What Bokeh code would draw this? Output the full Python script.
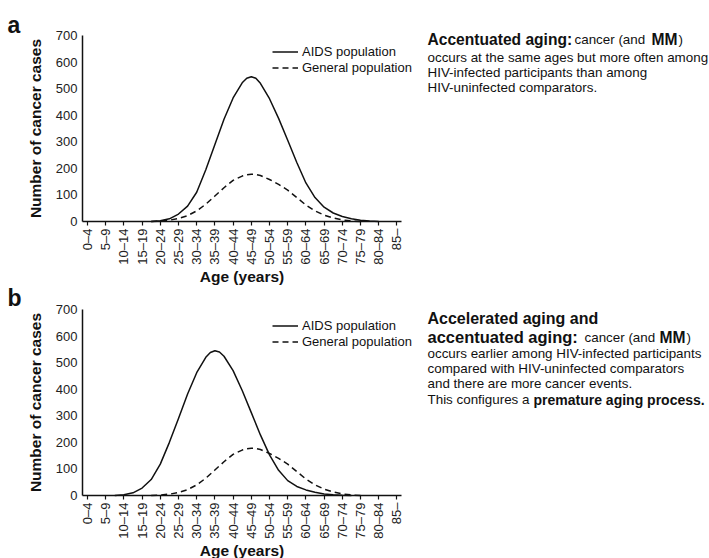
import math
from bokeh.plotting import figure
from bokeh.models import (Range1d, FixedTicker, Label, Legend, LegendItem,
                          LinearAxis, Grid)
from bokeh.embed import file_html
from bokeh.resources import INLINE

# ---------------- data ----------------
age_groups = ["0–4", "5–9", "10–14", "15–19", "20–24", "25–29", "30–34", "35–39",
              "40–44", "45–49", "50–54", "55–59", "60–64", "65–69", "70–74",
              "75–79", "80–84", "85–"]
age_mid = [2, 7, 12, 17, 22, 27, 32, 37, 42, 47, 52, 57, 62, 67, 72, 77, 82, 87]
y_ticks = [0, 100, 200, 300, 400, 500, 600, 700]

# panel a: AIDS population (read at ages in years)
a_aids_age = [19.5, 22, 24.5, 27, 29.5, 32, 34.5, 37, 39.5, 42, 44.5, 45.75, 47,
              48.25, 49.5, 52, 54.5, 57, 59.5, 62, 64.5, 67, 69.5, 72, 74.5, 77,
              79.5, 82]
a_aids_cases = [0, 3, 10, 28, 58, 110, 195, 290, 385, 465, 522, 539, 545,
                539, 520, 462, 388, 306, 222, 145, 90, 54, 32, 19, 10, 5,
                2, 0]

# panel b: AIDS population
b_aids_age = [9.5, 12, 14.5, 17, 19.5, 22, 24.5, 27, 29.5, 32, 34.5, 35.75, 37,
              38.25, 39.5, 42, 44.5, 47, 49.5, 52, 54.5, 57, 59.5, 62, 64.5, 67,
              69.5, 72, 74.5]
b_aids_cases = [0, 3, 10, 28, 60, 118, 200, 290, 382, 462, 520, 538, 545,
                540, 524, 470, 395, 312, 228, 153, 95, 56, 34, 21, 12, 6,
                3, 1, 0]

# general population (both panels)
gen_age = [19.5, 22, 24.5, 27, 29.5, 32, 34.5, 37, 39.5, 42, 44.5, 45.75, 47,
           48.25, 49.5, 52, 54.5, 57, 59.5, 62, 64.5, 67, 69.5, 72, 74.5, 77]
gen_cases = [0, 2, 5, 11, 22, 40, 65, 96, 127, 155, 171, 176, 178,
             177, 173, 158, 140, 118, 90, 62, 40, 24, 13, 6, 2, 0]

FONT = "Liberation Sans"
BLACK = "#111111"
W, H = 709, 558

# ---------------- layout geometry (pixels) ----------------
X_LEFT, X_RIGHT = 82, 401            # x axis extent for both panels
X_MIN, X_MAX = 0.63, 88.26           # ages at those pixels
A_TOP, A_BOT = 35, 221               # panel a: y=700 and y=0
B_TOP, B_BOT = 309, 495              # panel b: y=700 and y=0
Y_MAX = 700

kx = (X_MAX - X_MIN) / (X_RIGHT - X_LEFT)
ky = Y_MAX / (A_BOT - A_TOP)

x_range = Range1d(X_MIN - X_LEFT * kx, X_MIN + (W - X_LEFT) * kx)
ya_range = Range1d(-(H - A_BOT) * ky, A_BOT * ky)
yb_range = Range1d(-(H - B_BOT) * ky, B_BOT * ky)

p = figure(width=W, height=H, output_backend="svg", toolbar_location=None,
           x_range=x_range, y_range=ya_range,
           x_axis_location=None, y_axis_location=None,
           min_border=0, min_border_left=0, min_border_right=0,
           min_border_top=0, min_border_bottom=0)
p.extra_y_ranges = {"b": yb_range}
p.outline_line_color = None
p.background_fill_color = "white"
p.border_fill_color = "white"
for r in list(p.center):
    if isinstance(r, Grid):
        r.visible = False


def style_axis(ax):
    ax.axis_line_width = 1.5
    ax.axis_line_color = BLACK
    ax.major_tick_line_color = BLACK
    ax.major_tick_line_width = 1.2
    ax.minor_tick_line_color = None
    ax.major_label_text_font = FONT
    ax.major_label_text_font_size = "13px"
    ax.major_label_text_color = "#222222"
    ax.axis_label_text_font = FONT
    ax.axis_label_text_font_size = "15.5px"
    ax.axis_label_text_font_style = "bold"
    ax.axis_label_text_color = BLACK


for name in ("default", "b"):
    xa = LinearAxis(y_range_name=name, fixed_location=0,
                    bounds=(X_MIN, X_MAX),
                    ticker=FixedTicker(ticks=age_mid),
                    major_label_overrides={m: g for m, g in zip(age_mid, age_groups)},
                    major_label_orientation=math.pi / 2,
                    major_tick_out=4, major_tick_in=0, major_label_standoff=3,
                    axis_label="Age (years)", axis_label_standoff=0)
    style_axis(xa)
    p.add_layout(xa, "below")

    ya = LinearAxis(y_range_name=name, fixed_location=X_MIN,
                    bounds=(0, Y_MAX),
                    ticker=FixedTicker(ticks=y_ticks),
                    major_tick_out=0, major_tick_in=0, major_label_standoff=5,
                    axis_label="Number of cancer cases", axis_label_standoff=9)
    style_axis(ya)
    p.add_layout(ya, "left")


def panel_lines(name, aids_age, aids_cases, legend_bottom):
    r1 = p.line(aids_age, aids_cases, line_color=BLACK, line_width=1.5,
                y_range_name=name, line_join="round")
    r2 = p.line(gen_age, gen_cases, line_color=BLACK, line_width=1.5,
                line_dash="6 4", y_range_name=name, line_join="round")
    leg = Legend(items=[LegendItem(label="AIDS population", renderers=[r1]),
                        LegendItem(label="General population", renderers=[r2])],
                 location=(272, H - legend_bottom), padding=0, margin=0, spacing=1,
                 glyph_width=26, glyph_height=15, label_height=15, label_standoff=4,
                 label_text_font=FONT, label_text_font_size="13px",
                 label_text_color=BLACK, border_line_color=None,
                 background_fill_alpha=0)
    p.add_layout(leg, "center")


panel_lines("default", a_aids_age, a_aids_cases, 74.5)
panel_lines("b", b_aids_age, b_aids_cases, 348.5)

BODY = "13.4px"


def txt(x, y_top, s, size=BODY, bold=False):
    """x, y_top: pixel position of the text baseline, measured from the top-left."""
    p.add_layout(Label(x=x, y=H - y_top, x_units="screen", y_units="screen", text=s,
                       text_font=FONT, text_font_size=size,
                       text_font_style="bold" if bold else "normal",
                       text_color=BLACK, text_baseline="alphabetic",
                       text_align="left"))


# panel letters
txt(7, 24, "a", size="23px", bold=True)
txt(7, 297, "b", size="23px", bold=True)

# panel a annotation
txt(427, 39.3, "Accentuated aging:", size="15.6px", bold=True)
txt(574, 39.3, "cancer (and ")
txt(651, 39.3, "MM", size="15.6px", bold=True)
txt(678, 39.3, ")")
txt(427, 56.7, "occurs at the same ages but more often among")
txt(427, 71.7, "HIV-infected participants than among")
txt(427, 87.3, "HIV-uninfected comparators.")

# panel b annotation
txt(427, 318.3, "Accelerated aging and", size="16px", bold=True)
txt(427, 336.7, "accentuated aging:", size="16.5px", bold=True)
txt(584, 336.7, "cancer (and ")
txt(659, 336.7, "MM", size="15.6px", bold=True)
txt(686, 336.7, ")")
txt(427, 353.3, "occurs earlier among HIV-infected participants")
txt(427, 368.3, "compared with HIV-uninfected comparators")
txt(427, 383.3, "and there are more cancer events.")
txt(427, 399, "This configures a ")
txt(533, 399, "premature aging process.", size="14px", bold=True)

open("out.html", "w").write(file_html(p, INLINE))
